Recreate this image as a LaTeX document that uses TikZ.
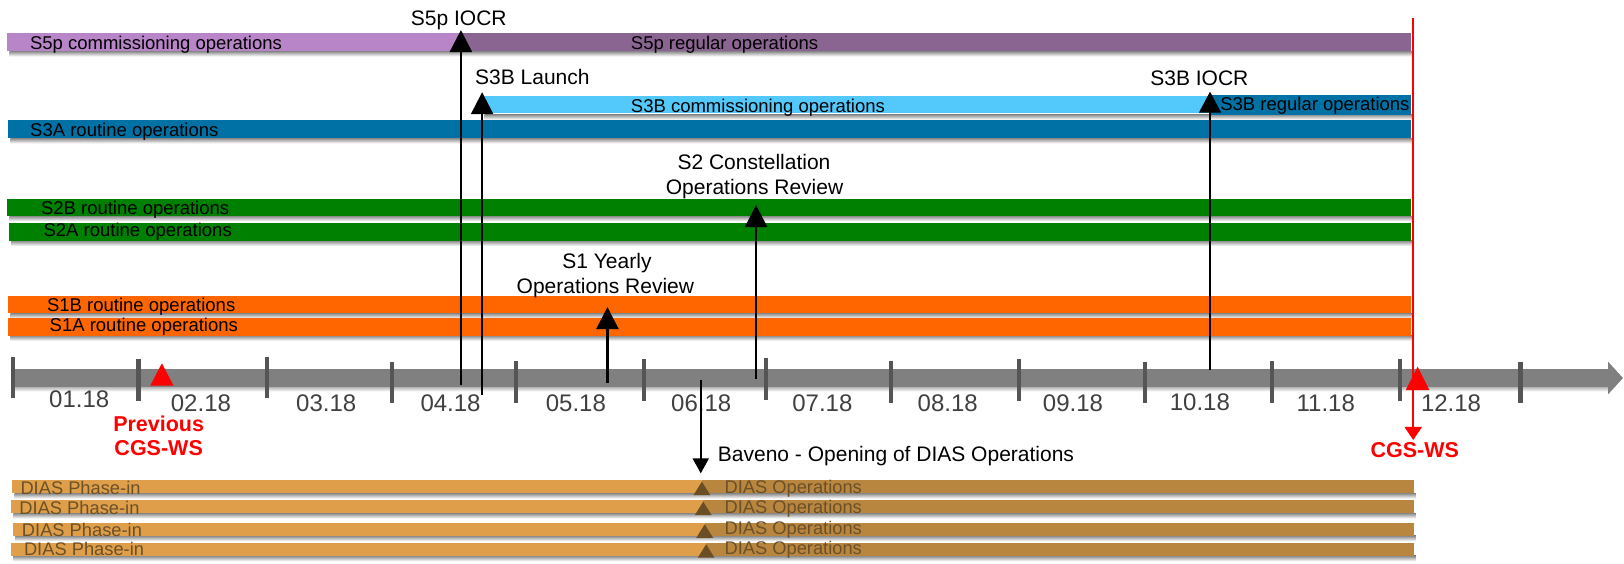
\documentclass[tikz,border=0pt]{standalone}
\usepackage{fontspec}
\setmainfont{Liberation Sans}
\usetikzlibrary{arrows.meta}
\definecolor{spcomm}{HTML}{B885C8}
\definecolor{spreg}{HTML}{8B6592}
\definecolor{sbcomm}{HTML}{53C8FB}
\definecolor{sthree}{HTML}{0071A4}
\definecolor{stwo}{HTML}{008000}
\definecolor{sone}{HTML}{FF6600}
\definecolor{diasL}{HTML}{DF9F4A}
\definecolor{diasD}{HTML}{B98640}
\definecolor{diasT}{HTML}{6B5028}
\definecolor{diasTri}{HTML}{6B4E24}
\definecolor{axisg}{HTML}{808080}
\definecolor{tickg}{HTML}{555555}
\definecolor{monthg}{HTML}{404040}
\definecolor{cgsred}{HTML}{FF0000}
\newcommand\mybarshadow[3]{\shade[top color=black!45,bottom color=white] (#1,#3) rectangle (#2,#3+5);}
\begin{document}
\begin{tikzpicture}[x=1.0357pt,y=-1.0357pt,
  bartext/.style={anchor=base west,inner sep=0pt,font=\fontsize{18.5}{22}\selectfont},
  evlabel/.style={anchor=base,inner sep=0pt,font=\fontsize{21}{25}\selectfont},
  monthlbl/.style={anchor=base,inner sep=0pt,text=monthg,font=\fontsize{24}{28}\selectfont},
  redlbl/.style={anchor=base,inner sep=0pt,text=cgsred,font=\bfseries\fontsize{21.5}{25}\selectfont},
  diastext/.style={anchor=base west,inner sep=0pt,text=diasT,font=\fontsize{18.3}{22}\selectfont},
  evarrow/.style={line width=2.5pt,-{Triangle[width=22pt,length=22pt]}},
  thinarrow/.style={line width=1.1pt,-{Triangle[width=22pt,length=21pt]}},
  bavarrow/.style={line width=2.2pt,-{Triangle[width=16pt,length=15pt]}},
  redarrow/.style={line width=2pt,draw=cgsred,-{Triangle[width=17pt,length=13pt]}},
  tickmark/.style={fill=tickg}
]
\useasboundingbox (0,0) rectangle (1568,543.6);

% shadows
\mybarshadow{9}{1364}{49.5}
\mybarshadow{468}{1364}{110.5}
\mybarshadow{10}{1364}{133.5}
\mybarshadow{9}{1364}{208.6}
\mybarshadow{11}{1364}{232.4}
\mybarshadow{10}{1364}{302.5}
\mybarshadow{10}{1364}{324.1}
\mybarshadow{14}{1367}{476.3}
\mybarshadow{13}{1367}{495.6}
\mybarshadow{15}{1367}{517.5}
\mybarshadow{13}{1367}{536.8}

% bars
\fill[spcomm] (7,32.2) rectangle (445,49.5);
\fill[spreg] (445,32.2) rectangle (1362,49.5);
\fill[sbcomm] (466,92.7) rectangle (1168.3,109.4);
\fill[sthree] (1168.3,91.8) rectangle (1362,110.8);
\fill[sthree] (8,116) rectangle (1362,133.5);
\fill[stwo] (7,192.5) rectangle (1362,208.6);
\fill[stwo] (9,215) rectangle (1362,232.4);
\fill[sone] (8,285.8) rectangle (1362,302.5);
\fill[sone] (8,307.4) rectangle (1362,324.1);

\fill[diasL] (12,463.5) rectangle (678,476.3);
\fill[diasD] (678,463.5) rectangle (1365,476.3);
\fill[diasL] (11,482.8) rectangle (679,495.6);
\fill[diasD] (679,482.8) rectangle (1365,495.6);
\fill[diasL] (13,504.7) rectangle (680.4,517.5);
\fill[diasD] (680.4,504.7) rectangle (1365,517.5);
\fill[diasL] (11,524) rectangle (681.8,536.8);
\fill[diasD] (681.8,524) rectangle (1365,536.8);

% bar texts
\node[bartext] (t5c) at (28.8,47.5) {S5p commissioning operations};
\node[bartext] (t5r) at (609,47.5) {S5p regular operations};
\node[bartext] (t3bc) at (609,109) {S3B commissioning operations};
\node[bartext] (t3br) at (1178,106.5) {S3B regular operations};
\node[bartext] (t3a) at (29,131.5) {S3A routine operations};
\node[bartext] (t2b) at (39.4,207) {S2B routine operations};
\node[bartext] (t2a) at (41.9,228) {S2A routine operations};
\node[bartext] (t1b) at (45.3,300.5) {S1B routine operations};
\node[bartext] (t1a) at (47.8,320.5) {S1A routine operations};

% DIAS texts and markers
\node[diastext] (dp1) at (19.6,477.5) {DIAS Phase-in};
\node[diastext] (dp2) at (18.6,496.6) {DIAS Phase-in};
\node[diastext] (dp3) at (21,518) {DIAS Phase-in};
\node[diastext] (dp4) at (23,535.9) {DIAS Phase-in};
\node[diastext] (do1) at (699.4,476) {DIAS Operations};
\node[diastext] (do2) at (699.4,495.8) {DIAS Operations};
\node[diastext] (do3) at (699.4,516.3) {DIAS Operations};
\node[diastext] (do4) at (699.4,535.4) {DIAS Operations};
\fill[diasTri] (669.6,478) -- (677.7,465) -- (685.8,478) -- cycle;
\fill[diasTri] (670.9,497.3) -- (679,484.3) -- (687.1,497.3) -- cycle;
\fill[diasTri] (672.3,519.2) -- (680.4,506.2) -- (688.5,519.2) -- cycle;
\fill[diasTri] (673.7,538.5) -- (681.8,525.5) -- (689.9,538.5) -- cycle;

% axis
\shade[top color=black!30,bottom color=white] (12,373.5) rectangle (1553,378);
\fill[axisg] (12,356.6) rectangle (1553,373.5);
\fill[axisg] (1552.6,349.2) -- (1567,365) -- (1552.6,380.8) -- cycle;
\foreach \tx/\ta/\tb in {12.9/344.4/384.6, 133.7/347/386.9, 257.4/345/384.6, 378.6/349.8/389.4,
  498.5/348.6/388.8, 621.8/347/387, 739.3/346/386, 860.6/348.6/388.8, 984.2/347/387,
  1105.6/349.8/389.4, 1228.2/348.6/388.8, 1351.8/347/387, 1468/349.8/389.4}
  {\fill[tickmark] (\tx-2,\ta) rectangle (\tx+2,\tb);}

% month labels
\node[monthlbl] (m1) at (76.5,393.3) {01.18};
\node[monthlbl] (m2) at (194,397.5) {02.18};
\node[monthlbl] (m3) at (315,397.5) {03.18};
\node[monthlbl] (m4) at (435,397.5) {04.18};
\node[monthlbl] (m5) at (556,397.5) {05.18};
\node[monthlbl] (m6) at (677,397.5) {06.18};
\node[monthlbl] (m7) at (794,397.5) {07.18};
\node[monthlbl] (m8) at (915,397.5) {08.18};
\node[monthlbl] (m9) at (1036,397.5) {09.18};
\node[monthlbl] (m10) at (1158.5,396) {10.18};
\node[monthlbl] (m11) at (1280,397.5) {11.18};
\node[monthlbl] (m12) at (1401,397.5) {12.18};

% event arrows
\coordinate (iocrB) at (445,371.7); \coordinate (iocrT) at (445,29);
\coordinate (launchB) at (465.5,381.4); \coordinate (launchT) at (465.5,89);
\coordinate (s3iocrB) at (1168.3,357.3); \coordinate (s3iocrT) at (1168.3,88.5);
\coordinate (s2aB) at (730,366.3); \coordinate (s2aT) at (730,198);
\coordinate (s1aB) at (586.5,369.5); \coordinate (s1aT) at (586.5,296.5);
\coordinate (bavT) at (676.6,366.9); \coordinate (bavB) at (676.6,457);
\draw[evarrow] (iocrB) -- (iocrT);
\draw[evarrow] (launchB) -- (launchT);
\draw[thinarrow] (s3iocrB) -- (s3iocrT);
\draw[evarrow] (s2aB) -- (s2aT);
\draw[evarrow] (s1aB) -- (s1aT);
\draw[bavarrow] (bavT) -- (bavB);

% event labels
\node[evlabel] (l5) at (443,24.5) {S5p IOCR};
\node[evlabel,anchor=base west] (l3l) at (458.6,82) {S3B Launch};
\node[evlabel] (l3i) at (1158,83) {S3B IOCR};
\node[evlabel] (l2a) at (728,163.5) {S2 Constellation};
\node[evlabel] (l2b) at (728.5,187.6) {Operations Review};
\node[evlabel] (l1a) at (586,259) {S1 Yearly};
\node[evlabel] (l1b) at (584.5,283.2) {Operations Review};
\node[evlabel,anchor=base west] (lbav) at (693,446) {Baveno - Opening of DIAS Operations};

% CGS-WS markers
\fill[cgsred] (145,372.4) -- (156.3,350.8) -- (167.6,372.4) -- cycle;
\node[redlbl] (prev1) at (153.2,417) {Previous};
\node[redlbl] (prev2) at (153.2,440) {CGS-WS};
\coordinate (cgsT) at (1364.5,17.7); \coordinate (cgsB) at (1364.5,424.8);
\draw[redarrow] (cgsT) -- (cgsB);
\fill[cgsred] (1357.3,376.6) -- (1368.7,354) -- (1380,376.6) -- cycle;
\node[redlbl] (cgs) at (1366,442) {CGS-WS};
\end{tikzpicture}
\end{document}
